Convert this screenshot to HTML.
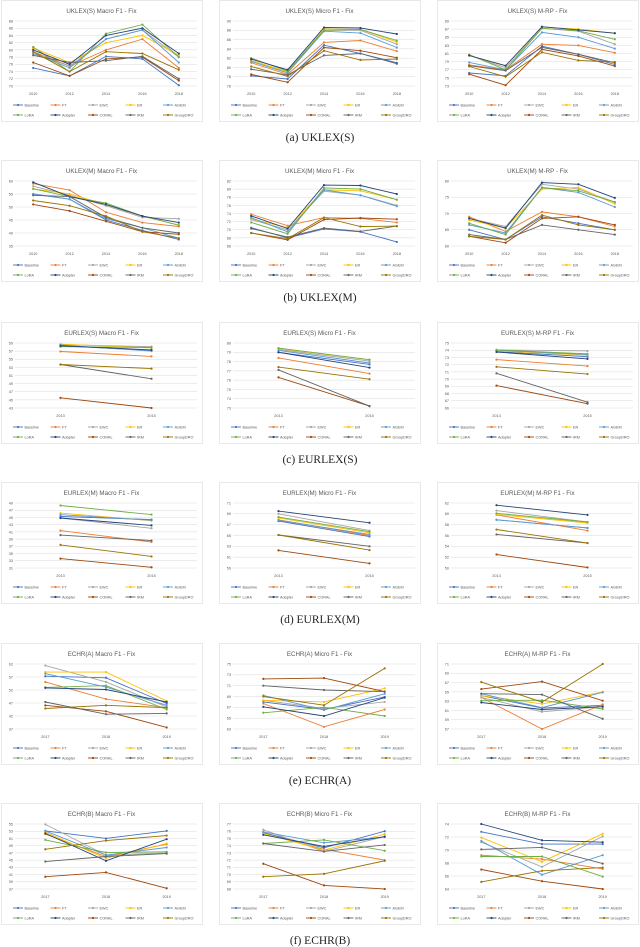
<!DOCTYPE html>
<html><head><meta charset="utf-8">
<style>
html,body{margin:0;padding:0;background:#fff;}
svg{display:block;font-family:"Liberation Sans",sans-serif;}
</style></head>
<body>
<svg id="fig" width="640" height="947" viewBox="0 0 640 947" xmlns="http://www.w3.org/2000/svg"></svg>
<script>
const seriesNames = ["Baseline","FT","EWC","ER","AGEM","LoRA","Adapter","CORAL","IRM","GroupDRO"];
const seriesColors = ["#4472C4","#ED7D31","#A5A5A5","#FFC000","#5B9BD5","#70AD47","#264478","#9E480E","#636363","#997300"];
const catsUK = ["2010","2012","2014","2016","2018"];
const catsEU = ["2013","2015"];
const catsEC = ["2017","2018","2019"];
const captions = ["(a) UKLEX(S)","(b) UKLEX(M)","(c) EURLEX(S)","(d) EURLEX(M)","(e) ECHR(A)","(f) ECHR(B)"];

const ticksA1=[70,72,74,76,78,80,82,84,86,88];
const valsA1=[[75,72.8,78.2,77.5,70.2],[79.5,75.5,80,83,75],[79,75.5,83,85.5,78],[80.5,76.5,82,84,78.5],[79,75,83,85.5,76.5],[80.8,74,84.5,87,78],[80,76,84,86,79],[76.5,72.8,77.5,78,71.5],[78.5,76.5,77,78.2,72],[79.5,74,79.5,79,74.5]];
const ticksA2=[76,78,80,82,84,86,88,90];
const valsA2=[[78.2,77.5,84.8,83,81],[81,78.5,85.4,85.8,83.5],[81.5,79,88,88,85],[81.5,79,88.3,88.2,85.5],[81.3,78.8,87.8,87.4,84.3],[82,79.2,88,88.2,85.8],[81.8,79.5,88.6,88.5,87.2],[78.5,76.8,84.3,83.6,82.1],[79.6,78.4,82.6,83,80.8],[80.2,78.1,83.6,81.6,81.8]];
const ticksA3=[73,75,77,79,81,83,85,87,89];
const valsA3=[[76.2,75.5,82.8,80.8,78.3],[78.2,77,83.3,83,81.2],[80.5,77.5,87.2,86.5,83.3],[80.5,78,87.5,87,86],[78.8,77,86.2,85,82.2],[80.7,77,87.2,86.6,84.5],[80.5,78,87.6,86.8,86],[75.9,73.2,82,80.4,77.9],[78,76.8,82.5,80.8,78.7],[77.8,75.3,81.3,79.3,78.9]];

const ticksB1=[35,40,45,50,55,60];
const valsB1=[[55,53,45,41,37.5],[59,56.5,48,44,42.5],[58,54.5,50.5,46,45.5],[57,55,51,46.5,43],[55,53,45.5,42,38],[57,54,51.5,46.5,43],[59.5,54,51,46.5,44],[51,48.5,44.5,40.5,39.5],[54.5,54,46,42,40],[52.5,50.5,46.5,40.5,38]];
const ticksB2=[66,68,70,72,74,76,78,80,82];
const valsB2=[[70.5,68,70.2,69.5,67],[73.8,71,73,72.8,71.8],[72.5,70,79.5,78.5,76],[72.7,70.5,79.8,79.6,77.4],[73,69.5,79.8,78.5,75.8],[71.8,69,80.3,80,77.4],[73.4,70.3,81,80.9,78.8],[69.2,67.5,72.5,72.9,72.6],[70.3,68.2,70.4,69.6,70.9],[69.2,67.8,73,70.8,70.9]];
const ticksB3=[60,65,70,75,80];
const valsB3=[[65,62,69,67,65],[69,64.5,70.5,69,66],[68.5,66,79,77.5,73.5],[68,65.5,77.5,78,73],[66.5,64,78,76.5,72],[67,63.5,78,77,73.5],[68.5,65.5,79.5,79,74.8],[63,61,68.5,69,66.5],[63.5,62,66.5,65,63.5],[63,62,69.5,66.5,65]];

const ticksC1=[43,45,47,49,51,53,55,57,59];
const valsC1=[[58.3,57.2],[56.9,55.7],[58.6,58.1],[58.7,57.8],[58.5,57.0],[58.1,57.9],[58.3,57.3],[45.5,43.0],[53.7,50.2],[53.7,52.7]];
const ticksC2=[73,74,75,76,77,78,79,80];
const valsC2=[[79.0,77.7],[78.4,76.7],[79.3,78.05],[79.4,78.2],[79.2,77.85],[79.45,78.2],[79.0,77.35],[76.3,73.2],[77.1,73.2],[77.4,76.1]];
const ticksC3=[66,67,68,69,70,71,72,73,74,75];
const valsC3=[[73.8,73.1],[72.7,71.8],[74.05,73.9],[73.9,73.3],[74.0,73.4],[74.05,73.5],[73.75,72.8],[69.1,66.6],[70.8,66.8],[71.7,70.7]];

const ticksD1=[31,33,35,37,39,41,43,45,47,49];
const valsD1=[[45.3,44.4],[41.35,38.2],[44.85,42.0],[46.2,44.1],[45.75,44.2],[48.3,45.8],[44.85,42.8],[33.6,31.2],[40.1,38.6],[37.4,34.2]];
const ticksD2=[59,61,63,65,67,69,71];
const valsD2=[[67.65,64.8],[67.9,65.0],[69.0,65.9],[68.25,65.5],[67.8,65.2],[68.4,65.7],[69.5,67.35],[62.25,59.85],[65.1,63.0],[65.1,62.3]];
const ticksD3=[50,52,54,56,58,60,62];
const valsD3=[[58.9,57.4],[59.8,56.9],[60.6,58.5],[59.9,58.3],[58.9,57.4],[60.1,58.5],[61.6,59.8],[52.5,50.1],[56.2,54.6],[57.1,54.6]];

const ticksE1=[37,42,47,52,57,62];
const valsE1=[[57.3,56.7,46.8],[55.1,48.5,45.2],[61.4,55.1,45.5],[58.9,58.9,47.8],[58.3,53.1,46.1],[53.0,53.7,44.5],[52.8,52.2,47.4],[46.1,43.8,37.6],[47.4,42.7,43.0],[44.9,46.1,45.2]];
const ticksE2=[63,65,67,69,71,73,75];
const valsE2=[[68.0,66.6,68.9],[67.7,63.4,66.6],[68.3,66.8,68.0],[68.3,68.0,70.5],[69.2,66.5,69.5],[66.0,67.0,65.4],[67.1,65.4,68.8],[72.25,72.4,69.9],[71.0,70.2,69.9],[69.0,67.4,74.2]];
const ticksE3=[57,59,61,63,65,67,69,71];
const valsE3=[[64.2,61.5,62.1],[63.8,57.0,62.3],[63.8,60.7,61.8],[64.2,62.4,65.0],[64.6,61.6,64.9],[63.1,63.2,61.3],[62.7,61.2,61.8],[65.6,67.2,63.1],[64.6,64.4,59.2],[67.1,62.8,71.0]];

const ticksF1=[37,39,41,43,45,47,49,51,53,55];
const valsF1=[[53.1,51.0,53.1],[52.2,46.0,49.4],[54.9,46.4,47.0],[52.7,45.5,49.6],[53.1,46.4,48.5],[50.6,47.1,47.3],[52.4,44.8,50.8],[40.4,41.6,37.2],[44.6,46.0,46.8],[48.0,50.4,51.8]];
const ticksF2=[68,69,70,71,72,73,74,75,76,77];
const valsF2=[[75.8,73.7,76.0],[75.7,73.5,72.0],[76.2,73.2,75.25],[75.7,73.4,75.6],[75.9,74.4,75.2],[74.3,74.8,73.3],[75.5,73.9,75.25],[71.5,68.5,68.0],[74.3,73.2,74.1],[69.7,70.1,71.9]];
const ticksF3=[64,66,68,70,72,74];
const valsF3=[[72.8,70.9,70.9],[69.2,68.6,67.1],[71.2,67.4,72.1],[71.9,68.2,72.5],[71.4,66.2,69.2],[69.0,69.0,65.9],[74.0,71.5,71.2],[67.0,65.2,64.0],[70.1,70.4,67.9],[65.1,66.8,67.3]];

const charts=[
 {r:0,c:0,t:"UKLEX(S) Macro F1 - Fix",cats:catsUK,ticks:ticksA1,vals:valsA1,name:"uklex-s-macro"},
 {r:0,c:1,t:"UKLEX(S) Micro F1 - Fix",cats:catsUK,ticks:ticksA2,vals:valsA2,name:"uklex-s-micro"},
 {r:0,c:2,t:"UKLEX(S) M-RP - Fix",cats:catsUK,ticks:ticksA3,vals:valsA3,name:"uklex-s-mrp"},
 {r:1,c:0,t:"UKLEX(M) Macro F1 - Fix",cats:catsUK,ticks:ticksB1,vals:valsB1,name:"uklex-m-macro"},
 {r:1,c:1,t:"UKLEX(M) Micro F1 - Fix",cats:catsUK,ticks:ticksB2,vals:valsB2,name:"uklex-m-micro"},
 {r:1,c:2,t:"UKLEX(M) M-RP - Fix",cats:catsUK,ticks:ticksB3,vals:valsB3,name:"uklex-m-mrp"},
 {r:2,c:0,t:"EURLEX(S) Macro F1 - Fix",cats:catsEU,ticks:ticksC1,vals:valsC1,name:"eurlex-s-macro"},
 {r:2,c:1,t:"EURLEX(S) Micro F1 - Fix",cats:catsEU,ticks:ticksC2,vals:valsC2,name:"eurlex-s-micro"},
 {r:2,c:2,t:"EURLEX(S) M-RP F1 - Fix",cats:catsEU,ticks:ticksC3,vals:valsC3,name:"eurlex-s-mrp"},
 {r:3,c:0,t:"EURLEX(M) Macro F1 - Fix",cats:catsEU,ticks:ticksD1,vals:valsD1,name:"eurlex-m-macro"},
 {r:3,c:1,t:"EURLEX(M) Micro F1 - Fix",cats:catsEU,ticks:ticksD2,vals:valsD2,name:"eurlex-m-micro"},
 {r:3,c:2,t:"EURLEX(M) M-RP F1 - Fix",cats:catsEU,ticks:ticksD3,vals:valsD3,name:"eurlex-m-mrp"},
 {r:4,c:0,t:"ECHR(A) Macro F1 - Fix",cats:catsEC,ticks:ticksE1,vals:valsE1,name:"echr-a-macro"},
 {r:4,c:1,t:"ECHR(A) Micro F1 - Fix",cats:catsEC,ticks:ticksE2,vals:valsE2,name:"echr-a-micro"},
 {r:4,c:2,t:"ECHR(A) M-RP F1 - Fix",cats:catsEC,ticks:ticksE3,vals:valsE3,name:"echr-a-mrp"},
 {r:5,c:0,t:"ECHR(B) Macro F1 - Fix",cats:catsEC,ticks:ticksF1,vals:valsF1,name:"echr-b-macro"},
 {r:5,c:1,t:"ECHR(B) Micro F1 - Fix",cats:catsEC,ticks:ticksF2,vals:valsF2,name:"echr-b-micro"},
 {r:5,c:2,t:"ECHR(B) M-RP F1 - Fix",cats:catsEC,ticks:ticksF3,vals:valsF3,name:"echr-b-mrp"}
];
const rowTops=[0,160,322,482,643,803];
const colLefts=[1,219,437];

const NS="http://www.w3.org/2000/svg";
const svg=document.getElementById('fig');
function mk(tag,attrs,parent,txt){const e=document.createElementNS(NS,tag);for(const k in attrs)e.setAttribute(k,attrs[k]);if(txt!==undefined)e.textContent=txt;(parent||svg).appendChild(e);return e;}

charts.forEach(ch=>{
  const T=rowTops[ch.r], bx=colLefts[ch.c], W=201;
  const g=mk('g',{});
  
  
  const box=mk('rect',{x:bx+0.5,y:T+0.5,width:W,height:121,fill:'#fff',stroke:'#d9d9d9','stroke-width':0.6},g);
  
  
  const ti=mk('text',{x:bx+W/2,y:T+13,'font-size':6.2,'text-anchor':'middle',fill:'#595959'},g,ch.t);
  
  
  const x0=bx+14,x1=bx+196,yT=T+21,yB=T+86;
  const tmin=ch.ticks[0],tmax=ch.ticks[ch.ticks.length-1];
  const ys=v=>yB-(v-tmin)/(tmax-tmin)*(yB-yT);
  const band=(x1-x0)/ch.cats.length;
  const xs=i=>x0+band*(i+0.5);
  ch.ticks.forEach(t=>{
    const gl=mk('line',{x1:x0,x2:x1,y1:ys(t),y2:ys(t),stroke:'#d9d9d9','stroke-width':0.5},g);
    
    
    const tl=mk('text',{x:bx+12,y:ys(t)+1.4,'font-size':3.8,'text-anchor':'end',fill:'#595959'},g,String(t));
    
    
  });
  ch.cats.forEach((c,i)=>{
    const xl=mk('text',{x:xs(i),y:T+95,'font-size':3.8,'text-anchor':'middle',fill:'#595959'},g,c);
    
    
  });
  ch.vals.forEach((sv,si)=>{
    const pts=sv.map((v,i)=>xs(i).toFixed(1)+','+ys(v).toFixed(1)).join(' ');
    const pl=mk('polyline',{points:pts,fill:'none',stroke:seriesColors[si],'stroke-width':0.9},g);
    
    
    sv.forEach((v,i)=>{
      const m=mk('circle',{cx:xs(i),cy:ys(v),r:1.1,fill:seriesColors[si]},g);
      
      
    });
  });
  seriesNames.forEach((n,si)=>{
    const lx=bx+12+(si%5)*37.5, ly=T+105+Math.floor(si/5)*10;
    const lg=mk('g',{},g);
    
    
    mk('line',{x1:lx,x2:lx+10,y1:ly,y2:ly,stroke:seriesColors[si],'stroke-width':0.9},lg);
    mk('circle',{cx:lx+5,cy:ly,r:1.1,fill:seriesColors[si]},lg);
    mk('text',{x:lx+11.5,y:ly+1.3,'font-size':3.8,fill:'#595959'},lg,n);
  });
});
captions.forEach((c,i)=>{
  const t=mk('text',{x:320,y:Math.min(rowTops[i]+141,944),'font-size':11.5,'text-anchor':'middle',fill:'#222','font-family':'"Liberation Serif",serif'},svg,c);
  
  
});
</script>
</body></html>
